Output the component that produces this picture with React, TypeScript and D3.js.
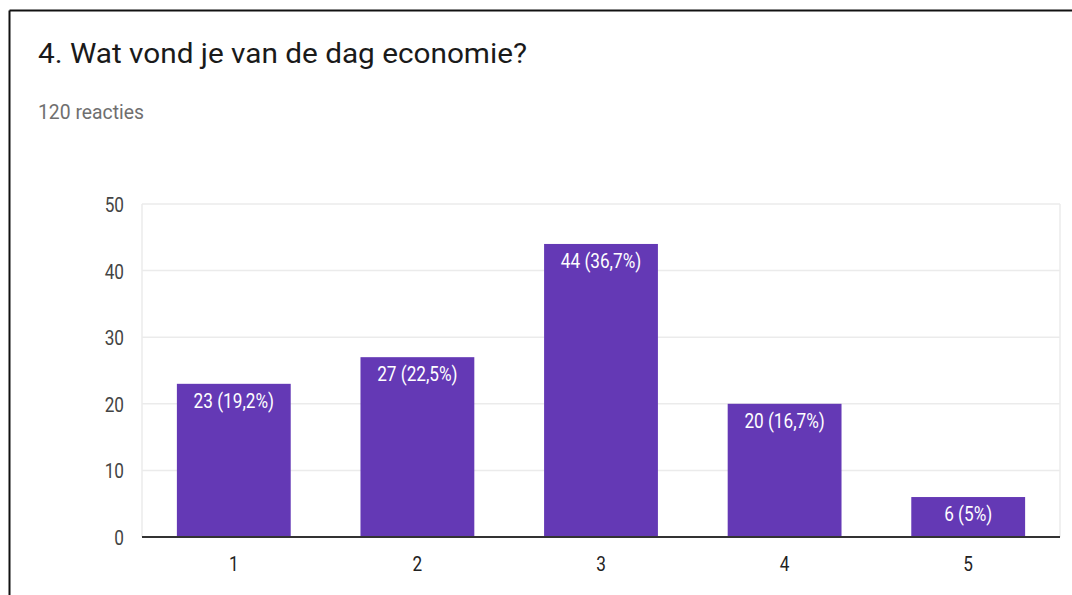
import React from "react";
import * as d3 from "d3";

const categories = ["1", "2", "3", "4", "5"];
const counts = [23, 27, 44, 20, 6];
const barLabels = ["23 (19,2%)", "27 (22,5%)", "44 (36,7%)", "20 (16,7%)", "6 (5%)"];
const yTicks = [0, 10, 20, 30, 40, 50];
const title = "4. Wat vond je van de dag economie?";
const subtitle = "120 reacties";

export default function App() {
  const W = 1072, H = 595;
  const left = 142, right = 1060, top = 204, bottom = 537;
  const x = d3.scaleBand<string>().domain(categories).range([left, right]).paddingInner(0.38).paddingOuter(0.19);
  const y = d3.scaleLinear().domain([0, 50]).range([bottom, top]);
  const font = "Roboto, 'Noto Sans', sans-serif";
  const sx = 0.86;
  const Label = ({ px, py, anchor, fill, size, children }: any) => (
    <text
      transform={`translate(${px},${py}) scale(${sx},1)`}
      textAnchor={anchor}
      fontFamily={font}
      fontSize={size}
      fill={fill}
    >
      {children}
    </text>
  );
  return (
    <svg width={W} height={H} style={{ position: "absolute", left: 0, top: 0, background: "#fff" }}>
      <rect x={0} y={0} width={W} height={H} fill="#fff" />
      <line x1={9.5} y1={10.5} x2={W} y2={10.5} stroke="#111" strokeWidth={2} />
      <line x1={9.5} y1={10.5} x2={9.5} y2={H} stroke="#111" strokeWidth={2} />
      <text x={38} y={63} fontFamily={font} fontSize={28} fill="#1a1a1a" textLength={489} lengthAdjust="spacingAndGlyphs">{title}</text>
      <text x={38} y={119} fontFamily={font} fontSize={20} fill="#6f6f6f" textLength={106} lengthAdjust="spacingAndGlyphs">{subtitle}</text>
      {yTicks.map((t) => (
        <g key={t}>
          {t > 0 && <line x1={left} x2={right} y1={y(t)} y2={y(t)} stroke="#ebebeb" strokeWidth={1.5} />}
          <Label px={124} py={y(t) + 8} anchor="end" fill="#444" size={20}>{t}</Label>
        </g>
      ))}
      <line x1={left} x2={left} y1={top} y2={bottom} stroke="#ebebeb" strokeWidth={1.5} />
      <line x1={right} x2={right} y1={top} y2={bottom} stroke="#ebebeb" strokeWidth={1.5} />
      {categories.map((c, i) => {
        const bx = x(c)!;
        const bw = x.bandwidth();
        const by = y(counts[i]);
        return (
          <g key={c}>
            <rect x={bx} y={by} width={bw} height={bottom - by} fill="#6439b5" />
            <Label px={bx + bw / 2} py={by + 24} anchor="middle" fill="#fff" size={20}>{barLabels[i]}</Label>
            <Label px={bx + bw / 2} py={bottom + 34} anchor="middle" fill="#222" size={20}>{c}</Label>
          </g>
        );
      })}
      <line x1={left} x2={right} y1={bottom} y2={bottom} stroke="#333" strokeWidth={2} />
    </svg>
  );
}
